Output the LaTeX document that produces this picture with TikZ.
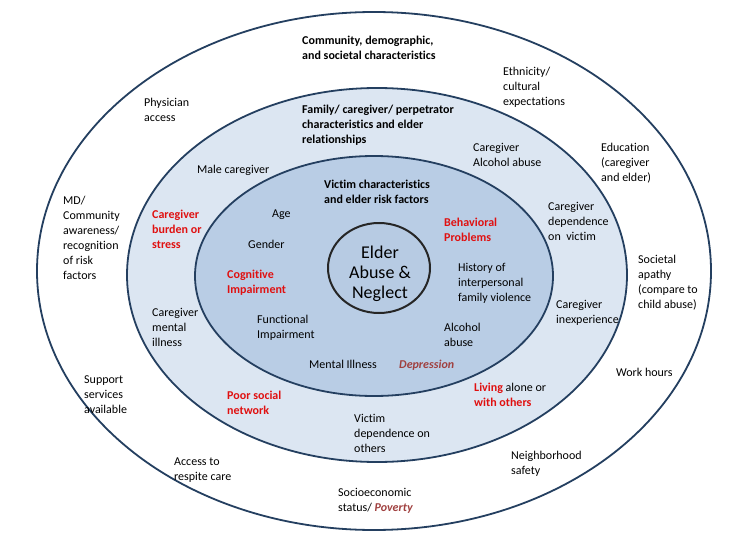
\documentclass[tikz,border=0pt]{standalone}
\usepackage{fontspec}
\setmainfont{Carlito}[Ligatures=NoCommon]
\usetikzlibrary{shapes.geometric}
\definecolor{navy}{HTML}{243F60}
\definecolor{midfill}{HTML}{DCE6F2}
\definecolor{innfill}{HTML}{B9CDE5}
\definecolor{ctrfill}{HTML}{B7CBE3}
\definecolor{myred}{HTML}{E01010}
\definecolor{darkred}{HTML}{A0403F}
\tikzset{
  ring/.style={ellipse, draw=navy, line width=1.8pt, inner sep=0pt},
  lbl/.style={anchor=north west, inner sep=0pt, align=left, font=\fontsize{12}{15}\selectfont, yshift=-3pt},
  hdr/.style={lbl, font=\fontsize{12}{15}\selectfont\bfseries},
  rlbl/.style={hdr, text=myred},
}
\newcommand{\rd}[1]{\textcolor{myred}{\textbf{#1}}}
\newcommand{\dr}[1]{\textcolor{darkred}{\textbf{\textit{#1}}}}
\begin{document}
\begin{tikzpicture}[x=1pt,y=-1pt]
\useasboundingbox (0,0) rectangle (753,535);
\fill[white] (0,0) rectangle (753,535);
% rings
\node[ring, fill=white, minimum width=674pt, minimum height=518pt] (outer) at (374,271) {};
\node[ring, fill=midfill, minimum width=500pt, minimum height=374pt] (middle) at (377,275) {};
\node[ring, fill=innfill, minimum width=358pt, minimum height=240pt] (inner) at (374,276) {};
\node[ellipse, draw=black!85, line width=2pt, fill=ctrfill, minimum width=102pt, minimum height=90pt, inner sep=0pt] (core) at (379,268) {};
\node[align=center, inner sep=0pt, font=\fontsize{18}{20}\selectfont] (coretext) at (380,274) {Elder\\Abuse \&\\Neglect};
% outer ring labels
\node[hdr] (comm) at (302,33) {Community, demographic,\\and societal characteristics};
\node[lbl] (eth) at (503,64) {Ethnicity/\\cultural\\expectations};
\node[lbl] (edu) at (601,140) {Education\\(caregiver\\and elder)};
\node[lbl] (phys) at (144,95) {Physician\\access};
\node[lbl] (md) at (63,193) {MD/\\Community\\awareness/\\recognition\\of risk\\factors};
\node[lbl] (soc) at (638,252) {Societal\\apathy\\(compare to\\child abuse)};
\node[lbl] (work) at (616,365) {Work hours};
\node[lbl] (supp) at (84,373) {Support\\services\\available};
\node[lbl] (resp) at (174,455) {Access to\\respite care};
\node[lbl] (ses) at (338,485) {Socioeconomic\\status/ \dr{Poverty}};
\node[lbl] (nbh) at (511,448) {Neighborhood\\safety};
% middle ring labels
\node[hdr] (fam) at (302,102) {Family/ caregiver/ perpetrator\\characteristics and elder\\relationships};
\node[lbl] (calc) at (473,140) {Caregiver\\Alcohol abuse};
\node[lbl] (male) at (197,162) {Male caregiver};
\node[rlbl] (burd) at (152,207) {Caregiver\\burden or\\stress};
\node[lbl] (cdep) at (548,199) {Caregiver\\dependence\\on~~victim};
\node[lbl] (cmen) at (152,305) {Caregiver\\mental\\illness};
\node[lbl] (cinx) at (556,297) {Caregiver\\inexperience};
\node[rlbl] (poor) at (227,388) {Poor social\\network};
\node[lbl] (vdep) at (354,411) {Victim\\dependence on\\others};
\node[lbl] (liv) at (474,380) {\rd{Living} alone or\\\rd{with others}};
% inner ring labels
\node[hdr] (vic) at (324,177) {Victim characteristics\\and elder risk factors};
\node[lbl] (age) at (272,207) {Age};
\node[lbl] (gen) at (248,237) {Gender};
\node[rlbl] (cog) at (227,267) {Cognitive\\Impairment};
\node[lbl] (func) at (257,312) {Functional\\Impairment};
\node[lbl] (ment) at (309,357) {Mental Illness};
\node[lbl] (depr) at (399,357) {\dr{Depression}};
\node[rlbl] (beh) at (444,215) {Behavioral\\Problems};
\node[lbl] (hist) at (458,260) {History of\\interpersonal\\family violence};
\node[lbl] (alc) at (444,320) {Alcohol\\abuse};
\end{tikzpicture}
\end{document}
